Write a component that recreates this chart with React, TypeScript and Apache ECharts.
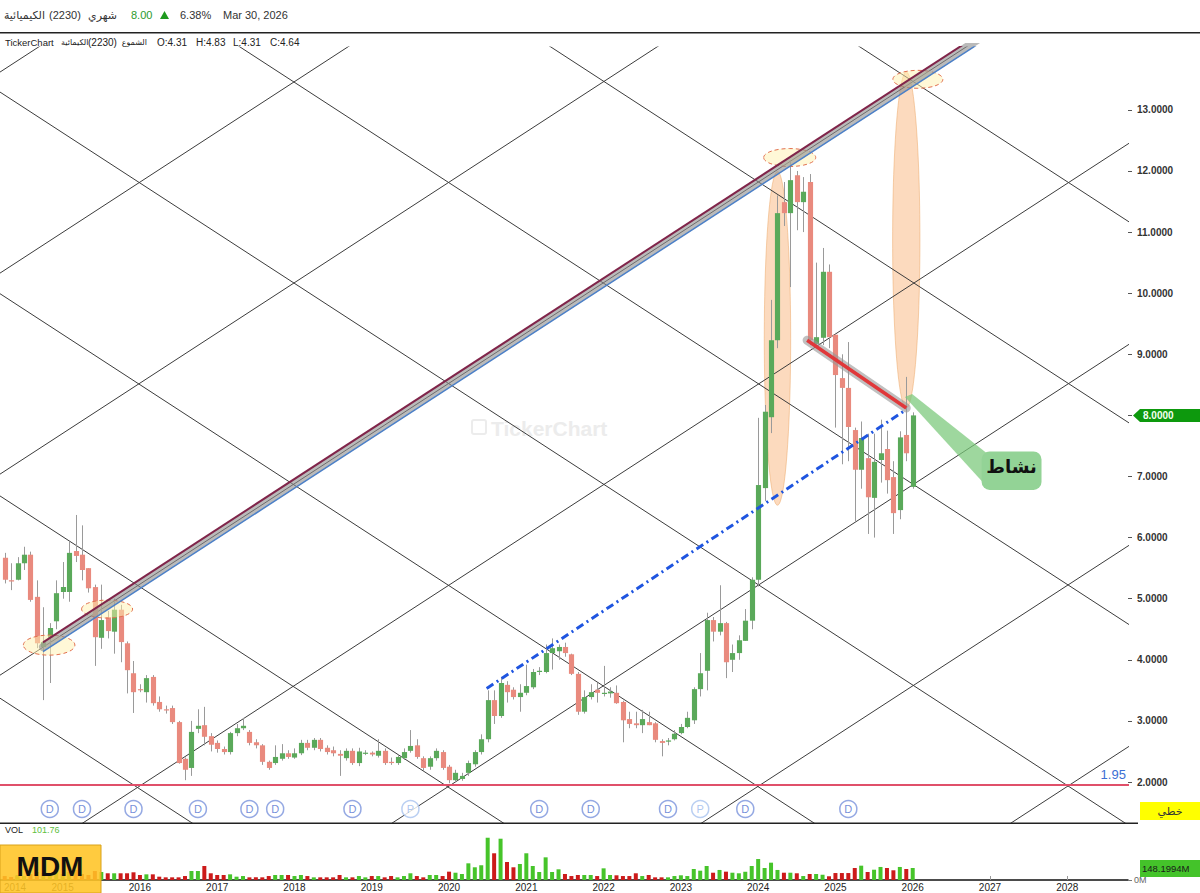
import React, { useEffect, useRef } from "react";
import * as echarts from "echarts";

// ---------- monthly candles (index 0 = first visible month) ----------
const OPEN = [
  5.67, 5.30, 5.31, 5.58, 5.72, 5.03, 4.21, 4.36, 4.63, 5.11,
  5.11, 5.78, 5.72, 5.50, 5.19, 4.36, 4.70, 4.46, 4.82, 4.27,
  3.78, 3.52, 3.47, 3.72, 3.31, 3.19, 3.21, 2.98, 2.38, 2.23,
  2.87, 2.93, 2.75, 2.64, 2.54, 2.49, 2.80, 2.88, 2.82, 2.65,
  2.60, 2.33, 2.31, 2.38, 2.47, 2.40, 2.47, 2.64, 2.56, 2.69,
  2.56, 2.52, 2.46, 2.39, 2.51, 2.31, 2.47, 2.48, 2.43, 2.51,
  2.33, 2.31, 2.39, 2.51, 2.60, 2.39, 2.25, 2.39, 2.49, 2.25,
  2.03, 2.05, 2.15, 2.29, 2.49, 2.70, 3.34, 3.08, 3.59, 3.51,
  3.39, 3.46, 3.55, 3.80, 3.80, 4.11, 4.14, 4.21, 4.09, 3.77,
  3.15, 3.39, 3.51, 3.46, 3.45, 3.46, 3.31, 3.03, 2.96, 2.93,
  2.98, 2.96, 2.67, 2.66, 2.70, 2.80, 2.90, 3.01, 3.52, 3.82,
  4.65, 4.46, 4.60, 4.00, 4.11, 4.31, 4.64, 5.31, 6.81, 7.97,
  9.23, 11.49, 11.31, 11.93, 11.49, 11.82, 9.17, 9.27, 10.35, 9.32,
  8.61, 8.45, 7.76, 7.11, 7.30, 6.65, 7.27, 7.45, 6.99, 6.45,
  7.68, 6.83,
];
const HIGH = [
  5.75, 5.58, 5.68, 5.85, 5.77, 5.30, 4.86, 4.60, 5.30, 5.60,
  5.93, 6.37, 6.20, 5.50, 5.23, 5.23, 4.80, 5.00, 4.90, 4.30,
  3.98, 3.60, 3.75, 3.75, 3.40, 3.25, 3.25, 3.00, 2.40, 3.00,
  3.19, 3.23, 2.80, 2.68, 2.58, 2.82, 2.95, 3.05, 2.85, 2.70,
  2.62, 2.35, 2.60, 2.62, 2.52, 2.55, 2.69, 2.69, 2.72, 2.72,
  2.60, 2.58, 2.52, 2.55, 2.55, 2.56, 2.52, 2.50, 2.70, 2.55,
  2.40, 2.45, 2.55, 2.85, 2.70, 2.42, 2.42, 2.55, 2.52, 2.28,
  2.20, 2.15, 2.35, 2.52, 2.78, 3.50, 3.50, 3.72, 3.65, 3.55,
  3.60, 3.92, 3.85, 3.88, 4.25, 4.35, 4.25, 4.28, 4.10, 3.80,
  3.50, 3.60, 3.62, 3.90, 3.55, 3.58, 3.33, 3.15, 3.15, 3.18,
  3.15, 2.98, 2.70, 2.72, 2.85, 2.95, 3.15, 3.55, 4.11, 4.77,
  4.70, 5.22, 4.62, 4.25, 4.40, 4.83, 5.35, 7.96, 8.17, 9.89,
  11.60, 11.82, 12.18, 12.00, 11.90, 11.95, 10.50, 10.74, 10.47, 9.35,
  9.00, 9.20, 7.80, 7.90, 7.70, 7.70, 7.93, 7.75, 7.25, 7.74,
  8.63, 8.05,
];
const LOW = [
  5.25, 5.14, 5.30, 5.47, 4.95, 4.19, 3.34, 3.62, 4.50, 5.00,
  4.95, 5.60, 5.30, 5.10, 3.90, 4.18, 4.35, 4.10, 3.96, 3.45,
  3.13, 3.47, 3.30, 3.25, 3.15, 3.12, 2.95, 2.30, 2.03, 2.10,
  2.80, 2.60, 2.50, 2.48, 2.45, 2.45, 2.75, 2.85, 2.60, 2.55,
  2.28, 2.20, 2.28, 2.35, 2.38, 2.38, 2.44, 2.52, 2.52, 2.50,
  2.45, 2.42, 2.10, 2.35, 2.28, 2.26, 2.44, 2.42, 2.40, 2.28,
  2.28, 2.28, 2.36, 2.48, 2.38, 2.18, 2.20, 2.35, 2.20, 1.98,
  2.00, 2.02, 2.10, 2.25, 2.45, 2.65, 2.95, 3.05, 3.30, 3.35,
  3.15, 3.42, 3.52, 3.75, 3.78, 3.84, 4.00, 4.05, 3.75, 3.10,
  3.12, 3.35, 3.30, 3.40, 3.38, 3.28, 2.65, 2.88, 2.88, 2.80,
  2.93, 2.65, 2.42, 2.60, 2.68, 2.78, 2.88, 2.95, 3.40, 3.50,
  4.30, 4.40, 3.70, 3.80, 4.00, 4.31, 4.50, 5.20, 6.60, 7.71,
  9.10, 11.10, 10.10, 11.03, 11.00, 9.15, 9.10, 9.15, 9.10, 7.80,
  7.20, 7.25, 6.25, 6.80, 6.06, 6.00, 6.90, 6.72, 6.06, 6.30,
  7.25, 6.80,
];
const CLOSE = [
  5.31, 5.28, 5.58, 5.72, 4.98, 4.27, 4.29, 4.52, 5.09, 5.19,
  5.75, 5.70, 5.47, 5.17, 4.37, 4.65, 4.47, 4.82, 4.29, 3.83,
  3.47, 3.51, 3.70, 3.29, 3.19, 3.17, 2.98, 2.31, 2.20, 2.82,
  2.92, 2.74, 2.61, 2.54, 2.49, 2.80, 2.88, 2.92, 2.64, 2.60,
  2.33, 2.23, 2.41, 2.47, 2.41, 2.47, 2.64, 2.56, 2.69, 2.54,
  2.49, 2.47, 2.43, 2.51, 2.31, 2.50, 2.48, 2.45, 2.51, 2.31,
  2.31, 2.41, 2.49, 2.59, 2.41, 2.23, 2.39, 2.51, 2.23, 2.03,
  2.15, 2.10, 2.31, 2.49, 2.70, 3.34, 3.08, 3.62, 3.47, 3.39,
  3.46, 3.57, 3.80, 3.82, 4.11, 4.19, 4.21, 4.11, 3.77, 3.15,
  3.39, 3.47, 3.46, 3.46, 3.48, 3.29, 3.01, 2.95, 2.93, 3.03,
  2.93, 2.69, 2.64, 2.68, 2.79, 2.90, 3.05, 3.52, 3.78, 4.65,
  4.46, 4.60, 3.96, 4.11, 4.32, 4.64, 5.31, 6.86, 8.06, 9.23,
  11.31, 11.31, 11.85, 11.49, 11.66, 9.23, 9.28, 10.35, 9.28, 8.66,
  8.45, 7.81, 7.11, 7.63, 6.66, 7.24, 7.38, 6.94, 6.40, 7.64,
  7.38, 8.00,
];
// volume in millions of shares
const VOLUME_M = [
  49, 37, 62, 49, 74, 99, 86, 62, 111, 74,
  99, 124, 74, 62, 111, 99, 83, 83, 83, 83,
  95, 62, 70, 70, 41, 33, 33, 33, 49, 111,
  111, 173, 83, 62, 62, 70, 41, 49, 33, 33,
  33, 49, 62, 62, 62, 49, 62, 49, 33, 33,
  33, 33, 62, 33, 33, 49, 33, 49, 49, 33,
  49, 33, 49, 83, 49, 33, 62, 62, 49, 103,
  90, 74, 206, 157, 182, 522, 330, 510, 222, 157,
  198, 330, 173, 99, 280, 99, 132, 74, 49, 62,
  62, 62, 49, 144, 62, 58, 49, 49, 83, 49,
  62, 33, 33, 33, 49, 58, 49, 136, 115, 173,
  90, 124, 103, 90, 83, 101.76, 173, 259, 148, 214,
  124, 90, 90, 83, 49, 74, 74, 65, 46, 86,
  86, 86, 148, 177, 99, 127, 161, 148, 120, 161,
  136, 148.1994,
];

const YEAR_TICKS = [1.6, 9, 21, 33, 45, 57, 69, 81, 93, 105, 117, 129, 141, 153, 165];
const YEAR_LABELS = ["2014", "2015", "2016", "2017", "2018", "2019", "2020", "2021", "2022", "2023", "2024", "2025", "2026", "2027", "2028"];
const PRICE_TICKS = [2, 3, 4, 5, 6, 7, 8, 9, 10, 11, 12, 13];
const DIVIDENDS = [7, 12, 20, 30, 38, 42, 54, 83, 91, 103, 115, 131];
const PAYOUTS = [63, 108];
const SUPPORT = 1.95;

// Gann-style lattice, each line given by two [month index, price] points
const GANN_RISING = [
  [[-1, 13.6], [176, 25.73]],
  [[-1, 10.31], [176, 22.44]],
  [[-1, 7.02], [176, 19.15]],
  [[-1, 3.73], [176, 15.86]],
  [[-1, 0.43], [176, 12.55]],
  [[-1, -2.86], [176, 9.26]],
  [[-1, -6.15], [176, 5.97]],
  [[-1, -9.44], [176, 2.68]],
];
const GANN_FALLING = [
  [[-1, 3.39], [176, -8.73]],
  [[-1, 6.7], [176, -5.42]],
  [[-1, 10.01], [176, -2.12]],
  [[-1, 13.31], [176, 1.19]],
  [[-1, 16.6], [176, 4.48]],
  [[-1, 19.91], [176, 7.78]],
  [[-1, 23.2], [176, 11.07]],
];
const CHANNEL = [[5.95, 4.21], [165, 15.1]];
const RED_TREND = [[124.6, 9.23], [140.0, 8.12]];
const BLUE_TREND = [[74.84, 3.53], [139.8, 8.08]];
// [centre index, centre price, half width (months), half height (price)]
const MARKED_ZONES = [
  [6.9, 4.24, 4.0, 0.164],
  [15.9, 4.83, 3.96, 0.147],
  [121.9, 12.22, 4.04, 0.147],
  [141.8, 13.5, 3.88, 0.147],
];
const SPIKE_ZONES = [
  [120.0, 9.26, 2.05, 2.73],
  [140.0, 10.87, 2.12, 2.75],
];
const CALLOUT_WEDGE = [[139.8, 8.3], [140.9, 8.35], [153.0, 7.34], [152.1, 6.88]];
const CALLOUT_BOX = [151.7, 7.41, 161.0, 6.78];
const CALLOUT_TEXT = "نشاط";

const X_MIN = -0.73;
const X_MAX = 174.43;
const Y_MIN = 1.329;
const Y_MAX = 14.029;
const VOL_MAX = 704;
const MARKER_LEVEL = 1.558;

const FONT = '"Liberation Sans", Arial, sans-serif';
const AR_FONT = '"DejaVu Sans", "Noto Sans", sans-serif';
const UP = "#5aa95a";
const DOWN = "#e98a7e";

function segSeries(data: number[][], color: string, width: number, z: number, extra: any = {}) {
  return {
    type: "line",
    data,
    symbol: "none",
    silent: true,
    clip: true,
    z,
    lineStyle: { color, width, ...extra },
    xAxisIndex: 0,
    yAxisIndex: 0,
  };
}

export default function App() {
  const ref = useRef<HTMLDivElement>(null);

  useEffect(() => {
    if (!ref.current) return;
    const chart = echarts.init(ref.current, null, { renderer: "svg" });

    const lastClose = CLOSE[CLOSE.length - 1];
    const lastVol = VOLUME_M[VOLUME_M.length - 1];

    const candleData = OPEN.map((o, i) => [i, o, CLOSE[i], LOW[i], HIGH[i]]);
    const volData = VOLUME_M.map((v, i) => ({
      value: [i, v],
      itemStyle: { color: CLOSE[i] >= OPEN[i] ? "#46c42a" : "#cc1a1a" },
    }));

    const series: any[] = [];

    // spike zones (behind candles)
    series.push({
      type: "custom",
      xAxisIndex: 0,
      yAxisIndex: 0,
      z: 1,
      silent: true,
      clip: true,
      data: SPIKE_ZONES,
      encode: { x: 0, y: 1 },
      renderItem: (_p: any, api: any) => {
        const c = api.coord([api.value(0), api.value(1)]);
        const s = api.size([api.value(2), api.value(3)]);
        return {
          type: "ellipse",
          shape: { cx: c[0], cy: c[1], rx: s[0], ry: s[1] },
          style: { fill: "rgba(250,196,150,0.62)", stroke: "rgba(235,165,100,0.5)", lineWidth: 1 },
        };
      },
    });

    GANN_RISING.forEach((l) => series.push(segSeries(l, "#3c3c3c", 1, 2)));
    GANN_FALLING.forEach((l) => series.push(segSeries(l, "#3c3c3c", 1, 2)));

    series.push(segSeries([[-1, SUPPORT], [176, SUPPORT]], "#e0506a", 2, 3));

    // candles
    series.push({
      type: "custom",
      xAxisIndex: 0,
      yAxisIndex: 0,
      z: 4,
      clip: true,
      data: candleData,
      encode: { x: 0, y: [1, 2, 3, 4] },
      renderItem: (_p: any, api: any) => {
        const i = api.value(0);
        const o = api.value(1);
        const c = api.value(2);
        const pO = api.coord([i, o]);
        const pC = api.coord([i, c]);
        const pL = api.coord([i, api.value(3)]);
        const pH = api.coord([i, api.value(4)]);
        const w = api.size([1, 0])[0] * 0.8;
        const top = Math.min(pO[1], pC[1]);
        const h = Math.max(Math.abs(pO[1] - pC[1]), 1.2);
        const x = Math.round(pO[0]) + 0.5;
        return {
          type: "group",
          children: [
            { type: "line", shape: { x1: x, y1: pH[1], x2: x, y2: pL[1] }, style: { stroke: "#9a9a9a", lineWidth: 1 } },
            { type: "rect", shape: { x: x - w / 2, y: top, width: w, height: h }, style: { fill: c >= o ? UP : DOWN } },
          ],
        };
      },
    });

    // dashed marked zones
    series.push({
      type: "custom",
      xAxisIndex: 0,
      yAxisIndex: 0,
      z: 5,
      silent: true,
      clip: true,
      data: MARKED_ZONES,
      encode: { x: 0, y: 1 },
      renderItem: (_p: any, api: any) => {
        const c = api.coord([api.value(0), api.value(1)]);
        const s = api.size([api.value(2), api.value(3)]);
        return {
          type: "ellipse",
          shape: { cx: c[0], cy: c[1], rx: s[0], ry: s[1] },
          style: { fill: "rgba(255,242,175,0.5)", stroke: "#e2704f", lineWidth: 1, lineDash: [4, 3] },
        };
      },
    });

    // channel band
    series.push(segSeries(CHANNEL, "rgba(140,140,140,0.6)", 8, 6, { cap: "round" }));
    series.push(segSeries(CHANNEL.map((p) => [p[0], p[1] + 0.075]), "#80254a", 2, 6));
    series.push(segSeries(CHANNEL.map((p) => [p[0], p[1] - 0.075]), "#4c80c8", 1.5, 6));

    // red falling trend with halo
    series.push(segSeries(RED_TREND, "rgba(150,150,150,0.6)", 9, 6, { cap: "round" }));
    series.push(segSeries(RED_TREND, "#e0383a", 3.5, 7));

    // blue dash-dot trend
    series.push(segSeries(BLUE_TREND, "#1f55e0", 3, 7, { type: [8, 4, 2, 4] }));

    // dividend markers
    const markerStyle = (border: string, text: string, letter: string) => ({
      type: "scatter",
      xAxisIndex: 0,
      yAxisIndex: 0,
      z: 5,
      silent: true,
      symbol: "circle",
      symbolSize: 17,
      itemStyle: { color: "#ffffff", borderColor: border, borderWidth: 1.5 },
      label: { show: true, position: "inside", formatter: letter, color: text, fontSize: 11, fontFamily: FONT },
    });
    series.push({ ...markerStyle("#7b93dc", "#5272cf", "D"), data: DIVIDENDS.map((i) => [i, MARKER_LEVEL]) });
    series.push({ ...markerStyle("#a9c3ef", "#9ab8ec", "P"), data: PAYOUTS.map((i) => [i, MARKER_LEVEL]) });

    // support label
    series.push({
      type: "custom",
      xAxisIndex: 0,
      yAxisIndex: 0,
      z: 8,
      silent: true,
      data: [[174.1, SUPPORT]],
      encode: { x: 0, y: 1 },
      renderItem: (_p: any, api: any) => {
        const c = api.coord([api.value(0), api.value(1)]);
        return {
          type: "text",
          x: c[0],
          y: c[1] - 11,
          style: { text: SUPPORT.toFixed(2), fill: "#3b6fd4", font: `13px ${FONT}`, textAlign: "right", textVerticalAlign: "middle" },
        };
      },
    });

    // callout
    series.push({
      type: "custom",
      xAxisIndex: 0,
      yAxisIndex: 0,
      z: 9,
      silent: true,
      data: [[CALLOUT_BOX[0], CALLOUT_BOX[1]]],
      encode: { x: 0, y: 1 },
      renderItem: (_p: any, api: any) => {
        const pts = CALLOUT_WEDGE.map((p) => api.coord(p));
        const a = api.coord([CALLOUT_BOX[0], CALLOUT_BOX[1]]);
        const b = api.coord([CALLOUT_BOX[2], CALLOUT_BOX[3]]);
        return {
          type: "group",
          children: [
            { type: "polygon", shape: { points: pts }, style: { fill: "rgba(120,200,120,0.72)" } },
            { type: "rect", shape: { x: a[0], y: a[1], width: b[0] - a[0], height: b[1] - a[1], r: 8 }, style: { fill: "#93d396" } },
            {
              type: "text",
              x: (a[0] + b[0]) / 2,
              y: (a[1] + b[1]) / 2 - 4,
              style: { text: CALLOUT_TEXT, fill: "#111", font: `bold 18px ${AR_FONT}`, textAlign: "center", textVerticalAlign: "middle" },
            },
          ],
        };
      },
    });

    // volume
    series.push({
      type: "bar",
      xAxisIndex: 1,
      yAxisIndex: 1,
      barWidth: 4,
      data: volData,
      silent: true,
      z: 2,
    });

    const option: any = {
      animation: false,
      backgroundColor: "#ffffff",
      textStyle: { fontFamily: FONT },
      grid: [
        { left: 0, top: 47, width: 1128, height: 776 },
        { left: 0, top: 823, width: 1128, height: 57 },
      ],
      xAxis: [
        { type: "value", gridIndex: 0, min: X_MIN, max: X_MAX, show: false },
        {
          type: "value",
          gridIndex: 1,
          min: X_MIN,
          max: X_MAX,
          splitLine: { show: false },
          axisLine: { show: true, onZero: false, lineStyle: { color: "#111", width: 1.5 } },
          axisTick: { show: true, customValues: YEAR_TICKS, inside: true, length: 4, lineStyle: { color: "#999" } },
          axisLabel: {
            customValues: YEAR_TICKS,
            formatter: (v: number) => {
              const k = YEAR_TICKS.findIndex((t) => Math.abs(t - v) < 0.01);
              return k >= 0 ? YEAR_LABELS[k] : "";
            },
            margin: 2,
            fontSize: 10,
            color: "#222",
            fontFamily: FONT,
          },
        },
      ],
      yAxis: [
        {
          type: "value",
          gridIndex: 0,
          position: "right",
          min: Y_MIN,
          max: Y_MAX,
          splitLine: { show: false },
          axisLine: { show: false, onZero: false },
          axisTick: { show: true, customValues: PRICE_TICKS, length: 4, lineStyle: { color: "#555" } },
          axisLabel: {
            customValues: PRICE_TICKS.filter((v) => v !== lastClose),
            formatter: (v: number) => v.toFixed(4),
            margin: 9,
            fontSize: 10,
            fontWeight: "bold",
            color: "#333",
            fontFamily: FONT,
          },
        },
        {
          type: "value",
          gridIndex: 1,
          position: "right",
          min: 0,
          max: VOL_MAX,
          splitLine: { show: false },
          axisLine: { show: false, onZero: false },
          axisTick: { show: true, customValues: [0], length: 4, lineStyle: { color: "#777" } },
          axisLabel: { customValues: [0], formatter: () => "0M", margin: 6, fontSize: 9, color: "#666", fontFamily: FONT },
        },
      ],
      series,
    };

    chart.setOption(option);

    const yTag = chart.convertToPixel({ yAxisIndex: 0 }, lastClose) as number;

    const t = (text: string, x: number, y: number, font: string, fill: string, align = "left", z = 50) => ({
      type: "text",
      x,
      y,
      z,
      silent: true,
      style: { text, font, fill, textAlign: align, textVerticalAlign: "middle" },
    });

    const graphic: any[] = [
      // header
      t("الكيميائية", 45, 15, `11px ${AR_FONT}`, "#333", "right"),
      t("(2230)", 49, 15, `11px ${FONT}`, "#333"),
      t("شهري", 117, 15, `11px ${AR_FONT}`, "#333", "right"),
      t(lastClose.toFixed(2), 131, 15, `11px ${FONT}`, "#2c9a2c"),
      { type: "polygon", z: 50, shape: { points: [[160, 19], [169, 19], [164.5, 11]] }, style: { fill: "#1e9a1e" } },
      t("6.38%", 180, 15, `11px ${FONT}`, "#333"),
      t("Mar 30, 2026", 223, 15, `11px ${FONT}`, "#333"),
      { type: "rect", z: 50, shape: { x: 0, y: 32, width: 1200, height: 1.5 }, style: { fill: "#222" } },
      // info line
      t("TickerChart", 5, 42, `9.5px ${FONT}`, "#222"),
      t("الكيمائية", 61, 42, `8px ${AR_FONT}`, "#222"),
      t("(2230)", 88, 42, `10px ${FONT}`, "#222"),
      t("الشموع", 147, 42, `8px ${AR_FONT}`, "#222", "right"),
      t("O:4.31", 157, 42, `10px ${FONT}`, "#222"),
      t("H:4.83", 196, 42, `10px ${FONT}`, "#222"),
      t("L:4.31", 233, 42, `10px ${FONT}`, "#222"),
      t("C:4.64", 270, 42, `10px ${FONT}`, "#222"),
      // watermark
      { type: "rect", z: 1, shape: { x: 472, y: 420, width: 14, height: 14, r: 2 }, style: { fill: "none", stroke: "#ececec", lineWidth: 2 } },
      { type: "text", z: 1, x: 491, y: 428, style: { text: "TickerChart", font: `bold 21px ${FONT}`, fill: "#ececec", textVerticalAlign: "middle" } },
      // pane separator
      { type: "rect", z: 50, shape: { x: 0, y: 822.5, width: 1138, height: 1.5 }, style: { fill: "#222" } },
      // volume caption
      t("VOL", 5, 830, `9px ${FONT}`, "#222"),
      t("101.76", 32, 830, `9px ${FONT}`, "#5cc040"),
      // right side tags
      {
        type: "polygon",
        z: 60,
        shape: { points: [[1133, yTag], [1140, yTag - 6.5], [1200, yTag - 6.5], [1200, yTag + 6.5], [1140, yTag + 6.5]] },
        style: { fill: "#0d990d" },
      },
      t(lastClose.toFixed(4), 1143, yTag, `bold 10px ${FONT}`, "#f4fff0", "left", 65),
      { type: "rect", z: 60, shape: { x: 1140, y: 802, width: 60, height: 18 }, style: { fill: "#ffff00" } },
      t("خطي", 1170, 811, `11px ${AR_FONT}`, "#333", "center", 65),
      { type: "rect", z: 60, shape: { x: 1140, y: 860, width: 60, height: 17 }, style: { fill: "#44c32a" } },
      t(`${lastVol.toFixed(4)}M`, 1142, 868.5, `9.5px ${FONT}`, "#1a1a1a", "left", 65),
      // logo
      { type: "rect", z: 70, shape: { x: 0, y: 845, width: 101, height: 48 }, style: { fill: "rgba(255,196,36,0.88)", stroke: "#d9a21a", lineWidth: 1 } },
      { type: "text", z: 71, x: 50, y: 866, style: { text: "MDM", font: `bold 28px ${FONT}`, fill: "#111", textAlign: "center", textVerticalAlign: "middle" } },
    ];

    chart.setOption({ graphic });

    return () => chart.dispose();
  }, []);

  return (
    <div
      ref={ref}
      style={{ position: "fixed", left: 0, top: 0, width: 1200, height: 893, background: "#fff" }}
    />
  );
}
